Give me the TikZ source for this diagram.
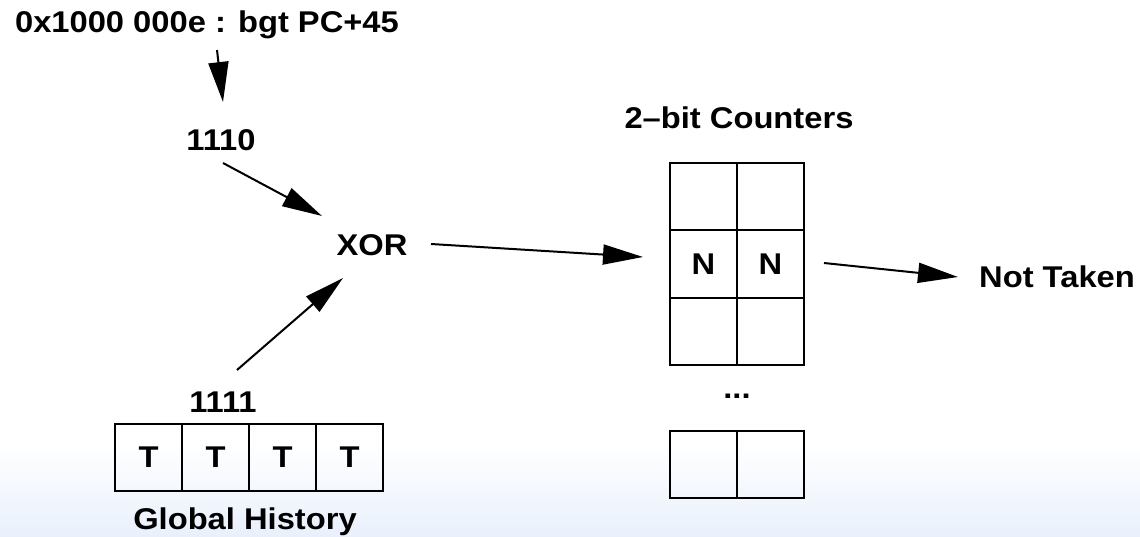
\documentclass[tikz,border=0pt]{standalone}
\usepackage{fontspec}
\setmainfont[FakeStretch=1.09]{Liberation Sans}
\usetikzlibrary{arrows.meta}
\definecolor{bgblue}{RGB}{233,240,252}
\begin{document}
\begin{tikzpicture}[x=1pt,y=-1pt,
  lab/.style={font=\fontsize{30}{36}\selectfont\bfseries, inner sep=0pt, text height=21pt, text depth=0pt, anchor=center},
  cell/.style={draw, line width=2pt, minimum width=67pt, minimum height=67pt, inner sep=0pt, font=\fontsize{30}{36}\selectfont\bfseries, text height=21pt, text depth=0pt},
  arr/.style={line width=2pt, -{Triangle[length=40pt,width=20pt]}}]
\useasboundingbox (0,0) rectangle (1140,537);
\fill[white] (0,0) rectangle (1140,537);
\shade[top color=white, bottom color=bgblue] (0,443) rectangle (1140,537);
% labels
\node[lab] (title) at (207,22) {0x1000 000e : bgt PC+45};
\node[lab] (n1110) at (221,140) {1110};
\node[lab] (xor) at (372,245) {XOR};
\node[lab] (n1111) at (223,402) {1111};
\node[lab] (gh) at (245,519) {Global History};
\node[lab] (ctr) at (739,118) {2–bit Counters};
\node[lab] (nt) at (1057,277) {Not Taken};
\node[lab] (dots) at (737,388) {...};
% global history
\node[cell] (h1) at (148.5,457) {T};
\node[cell] (h2) at (215.5,457) {T};
\node[cell] (h3) at (282.5,457) {T};
\node[cell] (h4) at (349.5,457) {T};
% counters
\node[cell] (c11) at (703.5,197) {};
\node[cell] (c12) at (770.5,197) {};
\node[cell] (c21) at (703.5,264) {N};
\node[cell] (c22) at (770.5,264) {N};
\node[cell] (c31) at (703.5,331) {};
\node[cell] (c32) at (770.5,331) {};
\node[cell] (c41) at (703.5,464) {};
\node[cell] (c42) at (770.5,464) {};
% arrows
\draw[arr] ([shift={(10,28)}]title.center) -- ([shift={(2,-38)}]n1110.center);
\draw[arr] ([shift={(2,23)}]n1110.center) -- ([shift={(-50,-29)}]xor.center);
\draw[arr] ([shift={(14,-32)}]n1111.center) -- ([shift={(-29,33)}]xor.center);
\draw[arr] ([shift={(59,-1)}]xor.center) -- ([shift={(-60.5,-7)}]c21.center);
\draw[arr] ([shift={(53.5,-1)}]c22.center) -- ([shift={(-99,0)}]nt.center);
\end{tikzpicture}
\end{document}
